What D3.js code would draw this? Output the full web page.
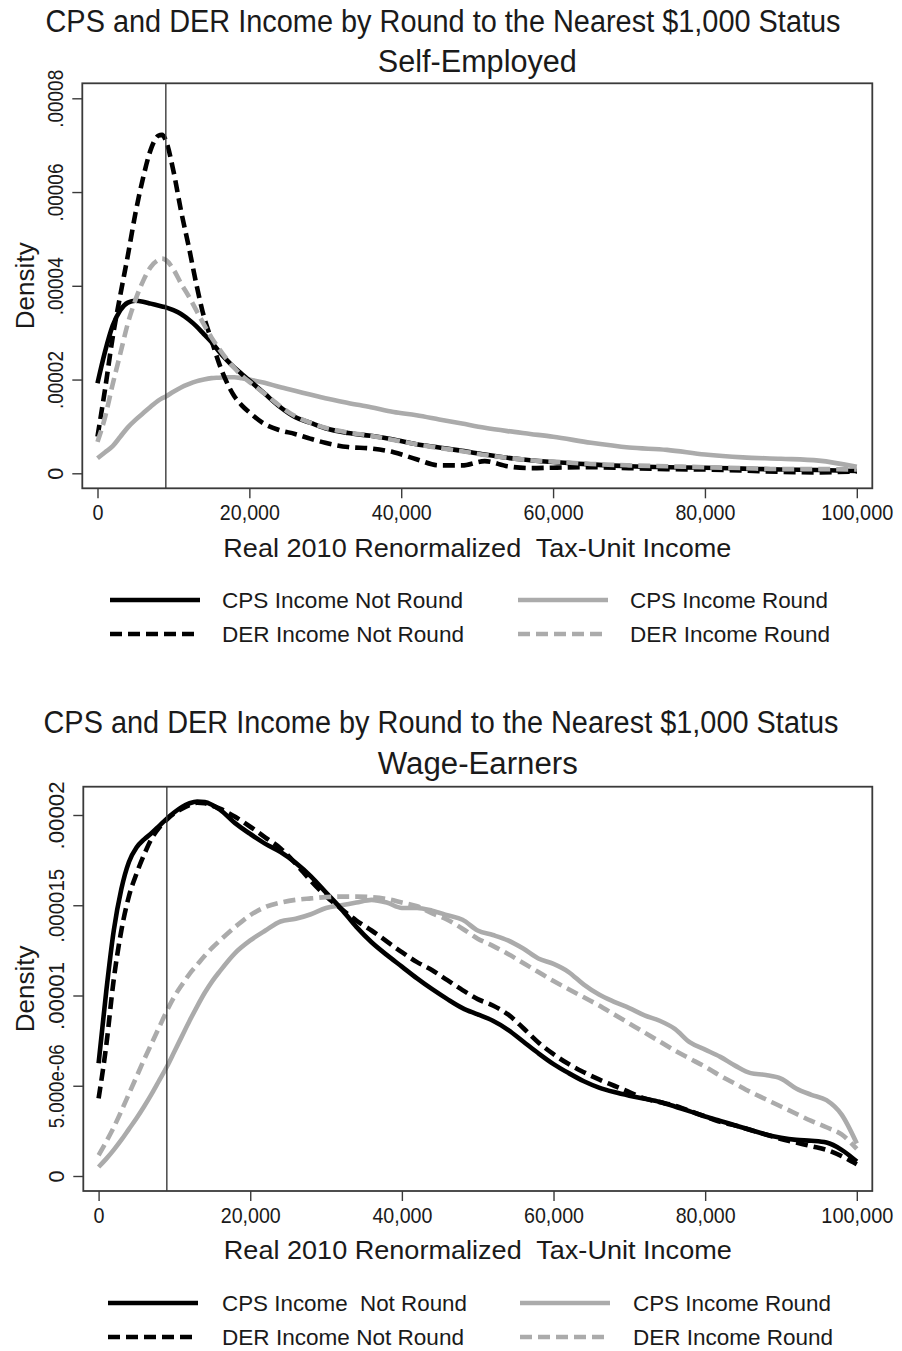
<!DOCTYPE html>
<html>
<head>
<meta charset="utf-8">
<script src="https://cdn.jsdelivr.net/npm/d3@7"></script>
<style>
  html, body { margin: 0; padding: 0; background: #fff; }
  svg { display: block; }
  text { font-family: "Liberation Sans Narrow", "Liberation Sans", Arial, sans-serif; fill: #1a1a1a; white-space: pre; }
</style>
</head>
<body>
<svg id="chart" width="902" height="1351"></svg>
<script>
// ---------- Data ----------
const mainTitle = "CPS and DER Income by Round to the Nearest $1,000 Status";
const panelTitles = ["Self-Employed", "Wage-Earners"];
const xAxisTitle = "Real 2010 Renormalized  Tax-Unit Income";
const yAxisTitle = "Density";
const xTickValues = [0, 20000, 40000, 60000, 80000, 100000];
const xTickLabels = ["0", "20,000", "40,000", "60,000", "80,000", "100,000"];
const cutoffIncome = 9000;

// Self-Employed panel
const seYTicks = [0, 2e-5, 4e-5, 6e-5, 8e-5];
const seYTickLabels = ["0", ".00002", ".00004", ".00006", ".00008"];
const seIncome = [0, 1000, 2000, 3000, 4000, 5000, 6000, 7000, 8000, 8500, 9000, 10000, 11000, 12000, 13000, 14000, 15000, 16000, 17000, 18000, 19000, 20000, 22000, 24000, 26000, 28000, 30000, 33000, 36000, 39000, 42000, 45000, 48000, 51000, 54000, 57000, 60000, 65000, 70000, 75000, 80000, 85000, 90000, 95000, 100000];
// densities in units of 1e-5
const seCpsNotRound = [1.92, 2.60, 3.15, 3.48, 3.64, 3.68, 3.66, 3.62, 3.58, 3.56, 3.54, 3.48, 3.40, 3.28, 3.14, 2.97, 2.80, 2.60, 2.42, 2.26, 2.12, 1.98, 1.70, 1.42, 1.20, 1.08, 0.96, 0.86, 0.80, 0.72, 0.62, 0.55, 0.48, 0.40, 0.33, 0.28, 0.24, 0.19, 0.15, 0.13, 0.12, 0.10, 0.08, 0.07, 0.05];
const seDerNotRound = [0.78, 1.80, 2.90, 3.80, 4.65, 5.55, 6.30, 6.90, 7.20, 7.22, 7.10, 6.45, 5.60, 4.85, 4.05, 3.35, 2.85, 2.35, 1.95, 1.65, 1.45, 1.30, 1.05, 0.92, 0.84, 0.74, 0.65, 0.56, 0.53, 0.45, 0.30, 0.17, 0.17, 0.26, 0.15, 0.11, 0.12, 0.13, 0.11, 0.09, 0.08, 0.06, 0.03, 0.02, 0.04];
const seCpsRound = [0.32, 0.45, 0.58, 0.78, 0.98, 1.14, 1.28, 1.42, 1.55, 1.60, 1.64, 1.74, 1.83, 1.90, 1.96, 2.00, 2.03, 2.04, 2.05, 2.05, 2.03, 2.00, 1.93, 1.84, 1.76, 1.68, 1.60, 1.50, 1.41, 1.31, 1.24, 1.15, 1.06, 0.97, 0.90, 0.84, 0.78, 0.65, 0.55, 0.50, 0.40, 0.34, 0.31, 0.27, 0.14];
const seDerRound = [0.67, 1.20, 1.90, 2.55, 3.20, 3.70, 4.10, 4.40, 4.55, 4.58, 4.55, 4.35, 4.05, 3.78, 3.48, 3.18, 2.90, 2.66, 2.44, 2.25, 2.08, 1.95, 1.70, 1.44, 1.22, 1.08, 0.97, 0.87, 0.80, 0.71, 0.62, 0.54, 0.47, 0.39, 0.33, 0.28, 0.25, 0.20, 0.17, 0.15, 0.13, 0.11, 0.09, 0.09, 0.08];

// Wage-Earners panel
const weYTicks = [0, 5e-6, 1e-5, 1.5e-5, 2e-5];
const weYTickLabels = ["0", "5.000e-06", ".00001", ".000015", ".00002"];
const weIncome = [0, 1000, 2000, 3000, 4000, 5000, 6000, 7000, 8000, 9000, 10000, 11000, 12000, 13000, 14000, 15000, 16000, 18000, 20000, 22000, 24000, 26000, 28000, 30000, 32000, 34000, 36000, 38000, 40000, 42000, 44000, 46000, 48000, 50000, 52000, 54000, 56000, 58000, 60000, 62000, 64000, 66000, 68000, 70000, 72000, 74000, 76000, 78000, 80000, 82000, 84000, 86000, 88000, 90000, 92000, 94000, 96000, 98000, 100000];
// densities in units of 1e-6
const weCpsNotRound = [6.25, 10.2, 13.6, 15.9, 17.4, 18.2, 18.65, 19.0, 19.4, 19.8, 20.15, 20.45, 20.65, 20.75, 20.72, 20.55, 20.3, 19.55, 18.95, 18.4, 17.95, 17.35, 16.6, 15.7, 14.8, 13.8, 12.95, 12.25, 11.6, 10.95, 10.35, 9.8, 9.3, 8.95, 8.6, 8.1, 7.45, 6.8, 6.2, 5.7, 5.25, 4.9, 4.65, 4.45, 4.28, 4.1, 3.85, 3.58, 3.3, 3.05, 2.8, 2.55, 2.3, 2.12, 2.0, 1.95, 1.85, 1.45, 0.8];
const weDerNotRound = [4.3, 7.2, 10.9, 13.6, 15.5, 16.75, 17.8, 18.7, 19.3, 19.75, 20.1, 20.35, 20.55, 20.68, 20.65, 20.52, 20.35, 19.9, 19.35, 18.75, 18.15, 17.3, 16.35, 15.5, 14.8, 14.15, 13.6, 13.0, 12.4, 11.85, 11.4, 10.85, 10.3, 9.8, 9.45, 8.95, 8.2, 7.4, 6.75, 6.2, 5.75, 5.35, 5.0, 4.65, 4.3, 4.1, 3.9, 3.6, 3.3, 3.0, 2.8, 2.55, 2.3, 2.05, 1.85, 1.65, 1.45, 1.1, 0.65];
const weCpsRound = [0.5, 0.95, 1.45, 2.0, 2.6, 3.2, 3.85, 4.55, 5.3, 6.05, 6.9, 7.75, 8.6, 9.4, 10.15, 10.8, 11.35, 12.35, 13.05, 13.6, 14.1, 14.25, 14.5, 14.85, 15.0, 15.15, 15.3, 15.15, 14.85, 14.85, 14.7, 14.45, 14.2, 13.6, 13.35, 13.05, 12.6, 12.05, 11.75, 11.3, 10.6, 10.05, 9.65, 9.3, 8.9, 8.6, 8.15, 7.4, 7.0, 6.6, 6.1, 5.7, 5.6, 5.4, 4.85, 4.5, 4.2, 3.4, 1.8];
const weDerRound = [1.15, 1.9, 2.7, 3.6, 4.55, 5.5, 6.45, 7.35, 8.25, 9.15, 9.95, 10.6, 11.2, 11.7, 12.2, 12.65, 13.05, 13.8, 14.45, 14.9, 15.15, 15.3, 15.38, 15.45, 15.48, 15.48, 15.45, 15.35, 15.15, 14.95, 14.55, 14.2, 13.7, 13.15, 12.75, 12.3, 11.8, 11.3, 10.8, 10.35, 9.9, 9.45, 8.95, 8.45, 7.95, 7.45, 6.95, 6.5, 6.05, 5.55, 5.1, 4.65, 4.25, 3.85, 3.45, 3.05, 2.7, 2.3, 1.5];

const seLegendLabels = ["CPS Income Not Round", "DER Income Not Round", "CPS Income Round", "DER Income Round"];
const weLegendLabels = ["CPS Income  Not Round", "DER Income Not Round", "CPS Income Round", "DER Income Round"];

// ---------- Styles ----------
const GRAY = "#ababab";
const seriesStyle = [
  { color: "#000", dash: null },      // CPS Not Round
  { color: "#000", dash: "12,6" },    // DER Not Round
  { color: GRAY, dash: null },        // CPS Round
  { color: GRAY, dash: "12,6" }       // DER Round
];
const LINE_W = 4.6;

const svg = d3.select("#chart");

function fitWidth(sel, w) {
  sel.attr("textLength", w).attr("lengthAdjust", "spacingAndGlyphs");
}

function drawPanel(cfg) {
  const g = svg.append("g");
  const x = d3.scaleLinear().domain([0, 100000]).range(cfg.xRange);
  const y = d3.scaleLinear().domain(cfg.yDomain).range(cfg.yRange);
  const box = cfg.box;

  // titles
  g.append("text").attr("x", cfg.titleX).attr("y", cfg.titleY)
    .attr("text-anchor", "middle").attr("font-size", 31).text(mainTitle)
    .call(fitWidth, cfg.titleW);
  g.append("text").attr("x", (box.x0 + box.x1) / 2).attr("y", cfg.subY)
    .attr("text-anchor", "middle").attr("font-size", 31).text(cfg.sub)
    .call(fitWidth, cfg.subW);

  // series (gray dashed drawn last, on top)
  const order = [2, 0, 1, 3];
  const lineGen = d3.line()
    .x(d => x(d[0]))
    .y(d => y(d[1] * cfg.unit))
    .curve(d3.curveMonotoneX);
  order.forEach(i => {
    const pts = cfg.income.map((v, j) => [v, cfg.series[i][j]]);
    g.append("path")
      .attr("d", lineGen(pts))
      .attr("fill", "none")
      .attr("stroke", seriesStyle[i].color)
      .attr("stroke-width", LINE_W)
      .attr("stroke-linejoin", "round")
      .attr("stroke-dasharray", seriesStyle[i].dash);
  });

  // cutoff reference line
  g.append("line")
    .attr("x1", x(cutoffIncome)).attr("x2", x(cutoffIncome))
    .attr("y1", box.y0).attr("y2", box.y1)
    .attr("stroke", "#3a3a3a").attr("stroke-width", 1.4);

  // plot frame
  g.append("rect")
    .attr("x", box.x0).attr("y", box.y0)
    .attr("width", box.x1 - box.x0).attr("height", box.y1 - box.y0)
    .attr("fill", "none").attr("stroke", "#3a3a3a").attr("stroke-width", 1.8);

  // x axis
  const xAxis = d3.axisBottom(x).tickValues(xTickValues)
    .tickFormat((d, i) => xTickLabels[i]).tickSize(10).tickPadding(7);
  const gx = g.append("g").attr("transform", `translate(0,${box.y1})`).call(xAxis);
  gx.select(".domain").remove();
  gx.selectAll(".tick line").attr("stroke", "#3a3a3a").attr("stroke-width", 1.4);
  gx.selectAll(".tick text").attr("font-size", 22).attr("fill", "#1a1a1a")
    .attr("font-family", null)
    .attr("dy", null).attr("y", cfg.xLabelBaseline - box.y1)
    .each(function (d, i) { d3.select(this).call(fitWidth, xTickWidths[i]); });

  // y axis
  const yAxis = d3.axisLeft(y).tickValues(cfg.yTicks)
    .tickFormat((d, i) => cfg.yTickLabels[i]).tickSize(10);
  const gy = g.append("g").attr("transform", `translate(${box.x0},0)`).call(yAxis);
  gy.select(".domain").remove();
  gy.selectAll(".tick line").attr("stroke", "#3a3a3a").attr("stroke-width", 1.4);
  gy.selectAll(".tick text")
    .attr("font-size", 22).attr("fill", "#1a1a1a")
    .attr("font-family", null)
    .attr("x", null).attr("dy", null)
    .attr("text-anchor", "middle")
    .attr("transform", `translate(${cfg.yLabelBaseline - box.x0},0) rotate(-90)`)
    .each(function (d, i) { d3.select(this).call(fitWidth, cfg.yTickWidths[i]); });

  // axis titles
  g.append("text").attr("x", (box.x0 + box.x1) / 2).attr("y", cfg.xTitleY)
    .attr("text-anchor", "middle").attr("font-size", 26).text(xAxisTitle)
    .call(fitWidth, 508);
  g.append("text")
    .attr("transform", `translate(34,${(box.y0 + box.y1) / 2}) rotate(-90)`)
    .attr("text-anchor", "middle").attr("font-size", 26).text(yAxisTitle)
    .call(fitWidth, 87);

  // legend
  const L = cfg.legend;
  const entries = [
    { s: 0, lx: L.lx0, tx: L.tx0, row: 0 },
    { s: 2, lx: L.lx1, tx: L.tx1, row: 0 },
    { s: 1, lx: L.lx0, tx: L.tx0, row: 1 },
    { s: 3, lx: L.lx1, tx: L.tx1, row: 1 }
  ];
  entries.forEach(e => {
    const cy = L.rows[e.row];
    g.append("line")
      .attr("x1", e.lx).attr("x2", e.lx + 90)
      .attr("y1", cy).attr("y2", cy)
      .attr("stroke", seriesStyle[e.s].color)
      .attr("stroke-width", LINE_W)
      .attr("stroke-dasharray", seriesStyle[e.s].dash);
    g.append("text").attr("x", e.tx).attr("y", cy + 8)
      .attr("font-size", 22).text(cfg.legendLabels[e.s])
      .call(fitWidth, L.widths[e.s]);
  });
}

const xTickWidths = [11, 60, 60, 60, 60, 72];

drawPanel({
  sub: panelTitles[0], titleX: 443, titleY: 32, titleW: 795, subY: 72, subW: 199,
  box: { x0: 82.3, x1: 872.3, y0: 83.3, y1: 488.3 },
  xRange: [97.5, 856.8], yDomain: [0, 8e-5], yRange: [473.3, 98.3],
  unit: 1e-5, income: seIncome,
  series: [seCpsNotRound, seDerNotRound, seCpsRound, seDerRound],
  yTicks: seYTicks, yTickLabels: seYTickLabels, yTickWidths: [12, 58, 58, 58, 58],
  xLabelBaseline: 520.5, yLabelBaseline: 63, xTitleY: 557,
  legendLabels: seLegendLabels,
  legend: { lx0: 110, lx1: 518, tx0: 222, tx1: 630, rows: [600, 634], widths: [241, 242, 198, 200] }
});

drawPanel({
  sub: panelTitles[1], titleX: 441, titleY: 733, titleW: 795, subY: 774, subW: 200,
  box: { x0: 83.3, x1: 872.3, y0: 786.7, y1: 1191 },
  xRange: [98.6, 856.8], yDomain: [0, 2e-5], yRange: [1176, 815],
  unit: 1e-6, income: weIncome,
  series: [weCpsNotRound, weDerNotRound, weCpsRound, weDerRound],
  yTicks: weYTicks, yTickLabels: weYTickLabels, yTickWidths: [12, 84, 68, 74, 68],
  xLabelBaseline: 1222.7, yLabelBaseline: 64, xTitleY: 1259,
  legendLabels: weLegendLabels,
  legend: { lx0: 108, lx1: 520, tx0: 222, tx1: 633, rows: [1303, 1337], widths: [245, 242, 198, 200] }
});
</script>
</body>
</html>
